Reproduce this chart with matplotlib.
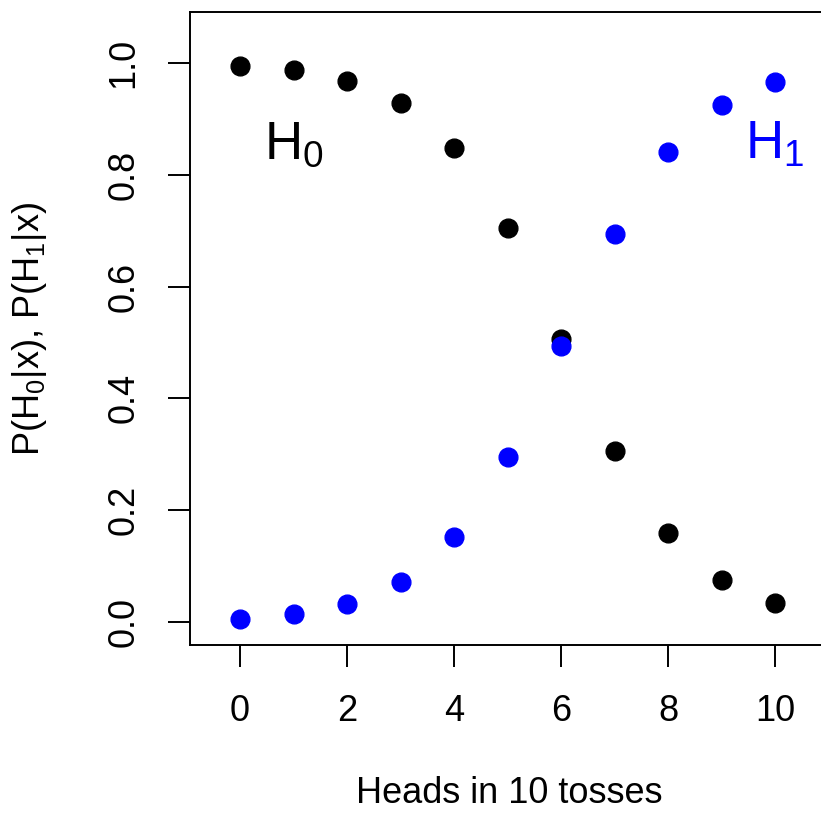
import matplotlib
matplotlib.use("Agg")
import matplotlib.pyplot as plt

plt.rcParams['font.family'] = ['Liberation Sans', 'DejaVu Sans']
plt.rcParams['mathtext.fontset'] = 'custom'
plt.rcParams['mathtext.rm'] = 'Liberation Sans'
plt.rcParams['mathtext.it'] = 'Liberation Sans'

heads = [0, 1, 2, 3, 4, 5, 6, 7, 8, 9, 10]
p_h0 = [0.995, 0.988, 0.968, 0.929, 0.848, 0.705, 0.507, 0.306, 0.159, 0.075, 0.034]
p_h1 = [0.005, 0.013, 0.032, 0.071, 0.152, 0.295, 0.493, 0.694, 0.841, 0.925, 0.966]
xticks = [0, 2, 4, 6, 8, 10]
yticks = [0.0, 0.2, 0.4, 0.6, 0.8, 1.0]

fig = plt.figure(figsize=(8.21, 8.15), dpi=100)
ax = fig.add_axes([190/821, (815-645)/815, (828.5-190)/821, (645-12)/815])

ax.plot(heads, p_h0, 'o', color='black', markersize=13.5, clip_on=False)
ax.plot(heads, p_h1, 'o', color='blue', markersize=13.5, clip_on=False)

ax.set_xlim(-0.935, 11.0)
ax.set_ylim(-0.042, 1.092)
ax.set_xticks(xticks)
ax.set_xticklabels([str(t) for t in xticks])
ax.set_yticks(yticks)
ax.set_yticklabels([f"{t:.1f}" for t in yticks], rotation=90, va='center')

for s in ax.spines.values():
    s.set_linewidth(1.4)
ax.tick_params(axis='both', length=16, width=1.4, labelsize=26, pad=19)

ax.set_xlabel('Heads in 10 tosses', fontsize=26, labelpad=34)
ax.set_ylabel(r'P(H$_0$|x), P(H$_1$|x)', fontsize=26, labelpad=41)

ax.text(0.45, 0.829, r'H$_0$', fontsize=38, color='black', va='baseline', ha='left')
ax.text(9.44, 0.829, r'H$_1$', fontsize=38, color='blue', va='baseline', ha='left')

fig.savefig('out.png', dpi=100)
